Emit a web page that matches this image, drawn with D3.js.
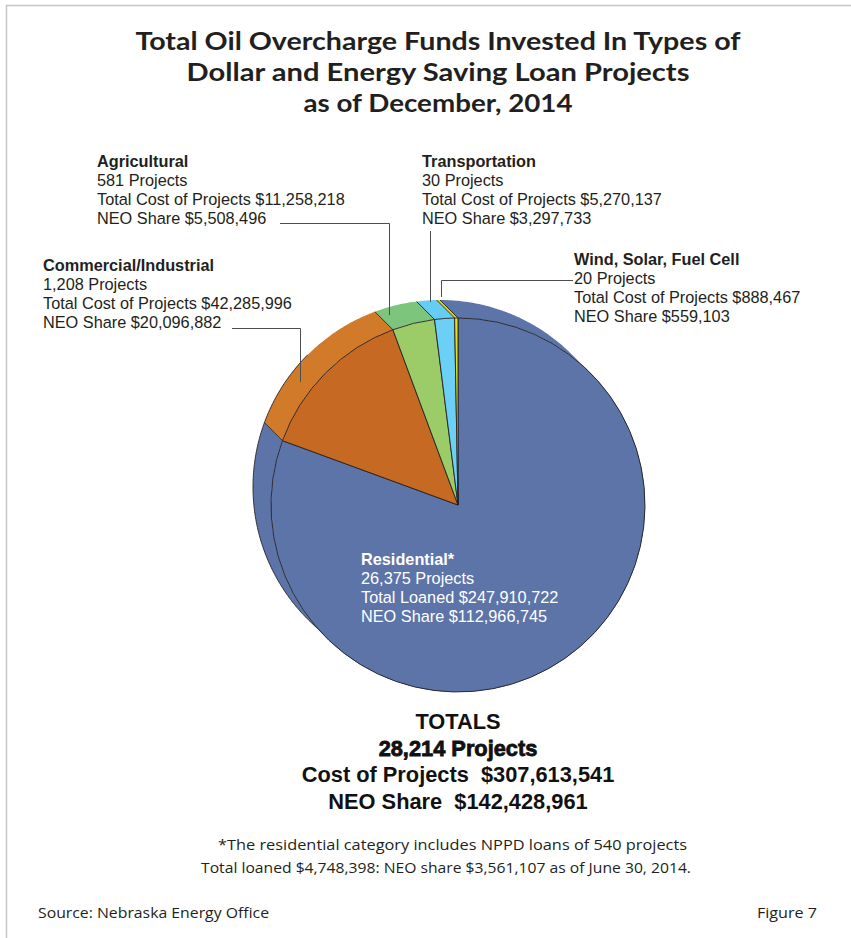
<!DOCTYPE html>
<html>
<head>
<meta charset="utf-8">
<script src="https://cdn.jsdelivr.net/npm/d3@7"></script>
<style>
  body { margin: 0; background: #fff; }
  svg { display: block; }
</style>
</head>
<body>
<div id="chart"></div>
<script>
// data
const categories = ["Residential*", "Commercial/Industrial", "Agricultural", "Transportation", "Wind, Solar, Fuel Cell"];
const projects = [26375, 1208, 581, 30, 20];
const totalCost = [247910722, 42285996, 11258218, 5270137, 888467];
const neoShare = [112966745, 20096882, 5508496, 3297733, 559103];
const titleLines = [
    "Total Oil Overcharge Funds Invested In Types of",
    "Dollar and Energy Saving Loan Projects",
    "as of December, 2014"
];
const totalProjects = 28214;
const totalCostAll = 307613541;
const totalNeo = 142428961;
const footnote = [
    "*The residential category includes NPPD loans of 540 projects",
    "Total loaned $4,748,398: NEO share $3,561,107 as of June 30, 2014."
];

const width = 851, height = 938;
const cx = 458, cy = 505, r = 187;
const depth = [-18, -18]; // offset of the pie's side band
const topColors = ["#5d74a9", "#c66a23", "#9bcc67", "#6ccff5", "#e4e01e"];
const sideColors = ["#5d74a9", "#d07a2a", "#7dc47d", "#66cdf2", "#d8d420"];
const outline = "#231f20";

const fmt = d3.format(",");
const money = v => "$" + fmt(v);

const svg = d3.select("#chart").append("svg")
    .attr("width", width)
    .attr("height", height);

// page frame
svg.append("path")
    .attr("d", `M6.5,${height} V5.5 H${width}`)
    .attr("fill", "none")
    .attr("stroke", "#c6c6c6")
    .attr("stroke-width", 1.5);

// title
svg.append("g").selectAll("text")
    .data(titleLines)
    .join("text")
    .attr("x", 438)
    .attr("y", (d, i) => 50 + i * 31)
    .attr("text-anchor", "middle")
    .attr("font-family", "Lato, 'Open Sans', sans-serif")
    .attr("font-weight", "bold")
    .attr("font-size", 25)
    .attr("fill", "#231f20")
    .attr("textLength", (d, i) => [605, 503, 269][i])
    .attr("lengthAdjust", "spacingAndGlyphs")
    .text(d => d);

// pie
const pie = d3.pie().sort(null).value(d => d.cost);
const slices = pie(categories.map((c, i) => ({ name: c, cost: totalCost[i], i })));

const pt = a => [cx + r * Math.sin(a), cy - r * Math.cos(a)];
const visible = a => (depth[0] * Math.sin(a) - depth[1] * Math.cos(a)) > 0;

const pieG = svg.append("g");

// side band: the arc swept along the depth offset
const step = Math.PI / 360;
slices.forEach(s => {
    const p = d3.path();
    for (let a = s.startAngle; a < s.endAngle; a += step) {
        const b = Math.min(a + step * 1.5, s.endAngle);
        const p0 = pt(a), p1 = pt(b);
        p.moveTo(p0[0], p0[1]);
        p.lineTo(p1[0], p1[1]);
        p.lineTo(p1[0] + depth[0], p1[1] + depth[1]);
        p.lineTo(p0[0] + depth[0], p0[1] + depth[1]);
        p.closePath();
    }
    pieG.append("path")
        .attr("d", p.toString())
        .attr("fill", sideColors[s.data.i]);
});

// slice edges on the band
slices.forEach(s => {
    const a = s.startAngle;
    if (!visible(a)) return;
    const p0 = pt(a);
    pieG.append("line")
        .attr("x1", p0[0]).attr("y1", p0[1])
        .attr("x2", p0[0] + depth[0]).attr("y2", p0[1] + depth[1])
        .attr("stroke", outline)
        .attr("stroke-width", 0.9);
});

// outer rim of the band
const a0 = Math.atan2(depth[1], depth[0]) + Math.PI / 2; // tangent angle
const rim = d3.path();
let first = true;
for (let k = 0; k <= 360; k++) {
    const a = a0 + Math.PI + (k / 360) * Math.PI;
    const p = pt(a);
    const x = p[0] + depth[0], y = p[1] + depth[1];
    if (first) { rim.moveTo(x, y); first = false; } else rim.lineTo(x, y);
}
pieG.append("path")
    .attr("d", rim.toString())
    .attr("fill", "none")
    .attr("stroke", outline)
    .attr("stroke-width", 0.9);

// top face
const arc = d3.arc().innerRadius(0).outerRadius(r);
pieG.append("g")
    .attr("transform", `translate(${cx},${cy})`)
    .selectAll("path")
    .data(slices)
    .join("path")
    .attr("d", arc)
    .attr("fill", d => topColors[d.data.i])
    .attr("stroke", outline)
    .attr("stroke-width", 0.9)
    .attr("stroke-linejoin", "round");

// leader lines
const leaders = [
    [[232, 328.5], [300.5, 328.5], [300.5, 382]],
    [[280, 223.5], [389.5, 223.5], [389.5, 315]],
    [[430.5, 231], [430.5, 302]],
    [[573, 280.5], [441.5, 280.5], [441.5, 297]]
];
svg.append("g").selectAll("path")
    .data(leaders)
    .join("path")
    .attr("d", d => d3.line()(d))
    .attr("fill", "none")
    .attr("stroke", "#4d4d4d")
    .attr("stroke-width", 1);

// category labels
const labelPos = [
    { x: 361, y: 565, fill: "#ffffff", costLabel: "Total Loaned " },
    { x: 43, y: 271, fill: "#231f20", costLabel: "Total Cost of Projects " },
    { x: 97, y: 167, fill: "#231f20", costLabel: "Total Cost of Projects " },
    { x: 422, y: 167, fill: "#231f20", costLabel: "Total Cost of Projects " },
    { x: 574, y: 265, fill: "#231f20", costLabel: "Total Cost of Projects " }
];
categories.forEach((c, i) => {
    const lp = labelPos[i];
    const t = svg.append("text")
        .attr("font-family", "'Liberation Sans', Arial, sans-serif")
        .attr("font-size", 16.3)
        .attr("fill", lp.fill);
    const lines = [
        c,
        fmt(projects[i]) + " Projects",
        lp.costLabel + money(totalCost[i]),
        "NEO Share " + money(neoShare[i])
    ];
    lines.forEach((l, j) => {
        t.append("tspan")
            .attr("x", lp.x)
            .attr("y", lp.y + j * 19)
            .attr("font-weight", j === 0 ? "bold" : "normal")
            .text(l);
    });
});

// totals
const totals = [
    "TOTALS",
    fmt(totalProjects) + " Projects",
    "Cost of Projects\u00a0\u00a0" + money(totalCostAll),
    "NEO Share\u00a0\u00a0" + money(totalNeo)
];
svg.append("g").selectAll("text")
    .data(totals)
    .join("text")
    .attr("x", 458)
    .attr("y", (d, i) => 729 + i * 26.5)
    .attr("text-anchor", "middle")
    .attr("font-family", "'Liberation Sans', Arial, sans-serif")
    .attr("font-weight", "bold")
    .attr("font-size", 21.8)
    .attr("fill", "#111")
    .attr("stroke", (d, i) => i === 1 ? "#111" : "none")
    .attr("stroke-width", 0.8)
    .text(d => d);

// footnote
svg.append("g").selectAll("text")
    .data(footnote)
    .join("text")
    .attr("x", (d, i) => [452.5, 446][i])
    .attr("y", (d, i) => 850 + i * 23)
    .attr("text-anchor", "middle")
    .attr("font-family", "'Open Sans', sans-serif")
    .attr("font-size", 14)
    .attr("fill", "#231f20")
    .attr("textLength", (d, i) => [469, 490][i])
    .attr("lengthAdjust", "spacingAndGlyphs")
    .text(d => d);

// source and figure number
svg.append("text")
    .attr("x", 38).attr("y", 918)
    .attr("font-family", "'Open Sans', sans-serif")
    .attr("font-size", 14.5)
    .attr("fill", "#231f20")
    .attr("textLength", 231)
    .attr("lengthAdjust", "spacingAndGlyphs")
    .text("Source: Nebraska Energy Office");

svg.append("text")
    .attr("x", 757).attr("y", 918)
    .attr("font-family", "'Open Sans', sans-serif")
    .attr("font-size", 14.5)
    .attr("fill", "#231f20")
    .attr("textLength", 60)
    .attr("lengthAdjust", "spacingAndGlyphs")
    .text("Figure 7");
</script>
</body>
</html>
